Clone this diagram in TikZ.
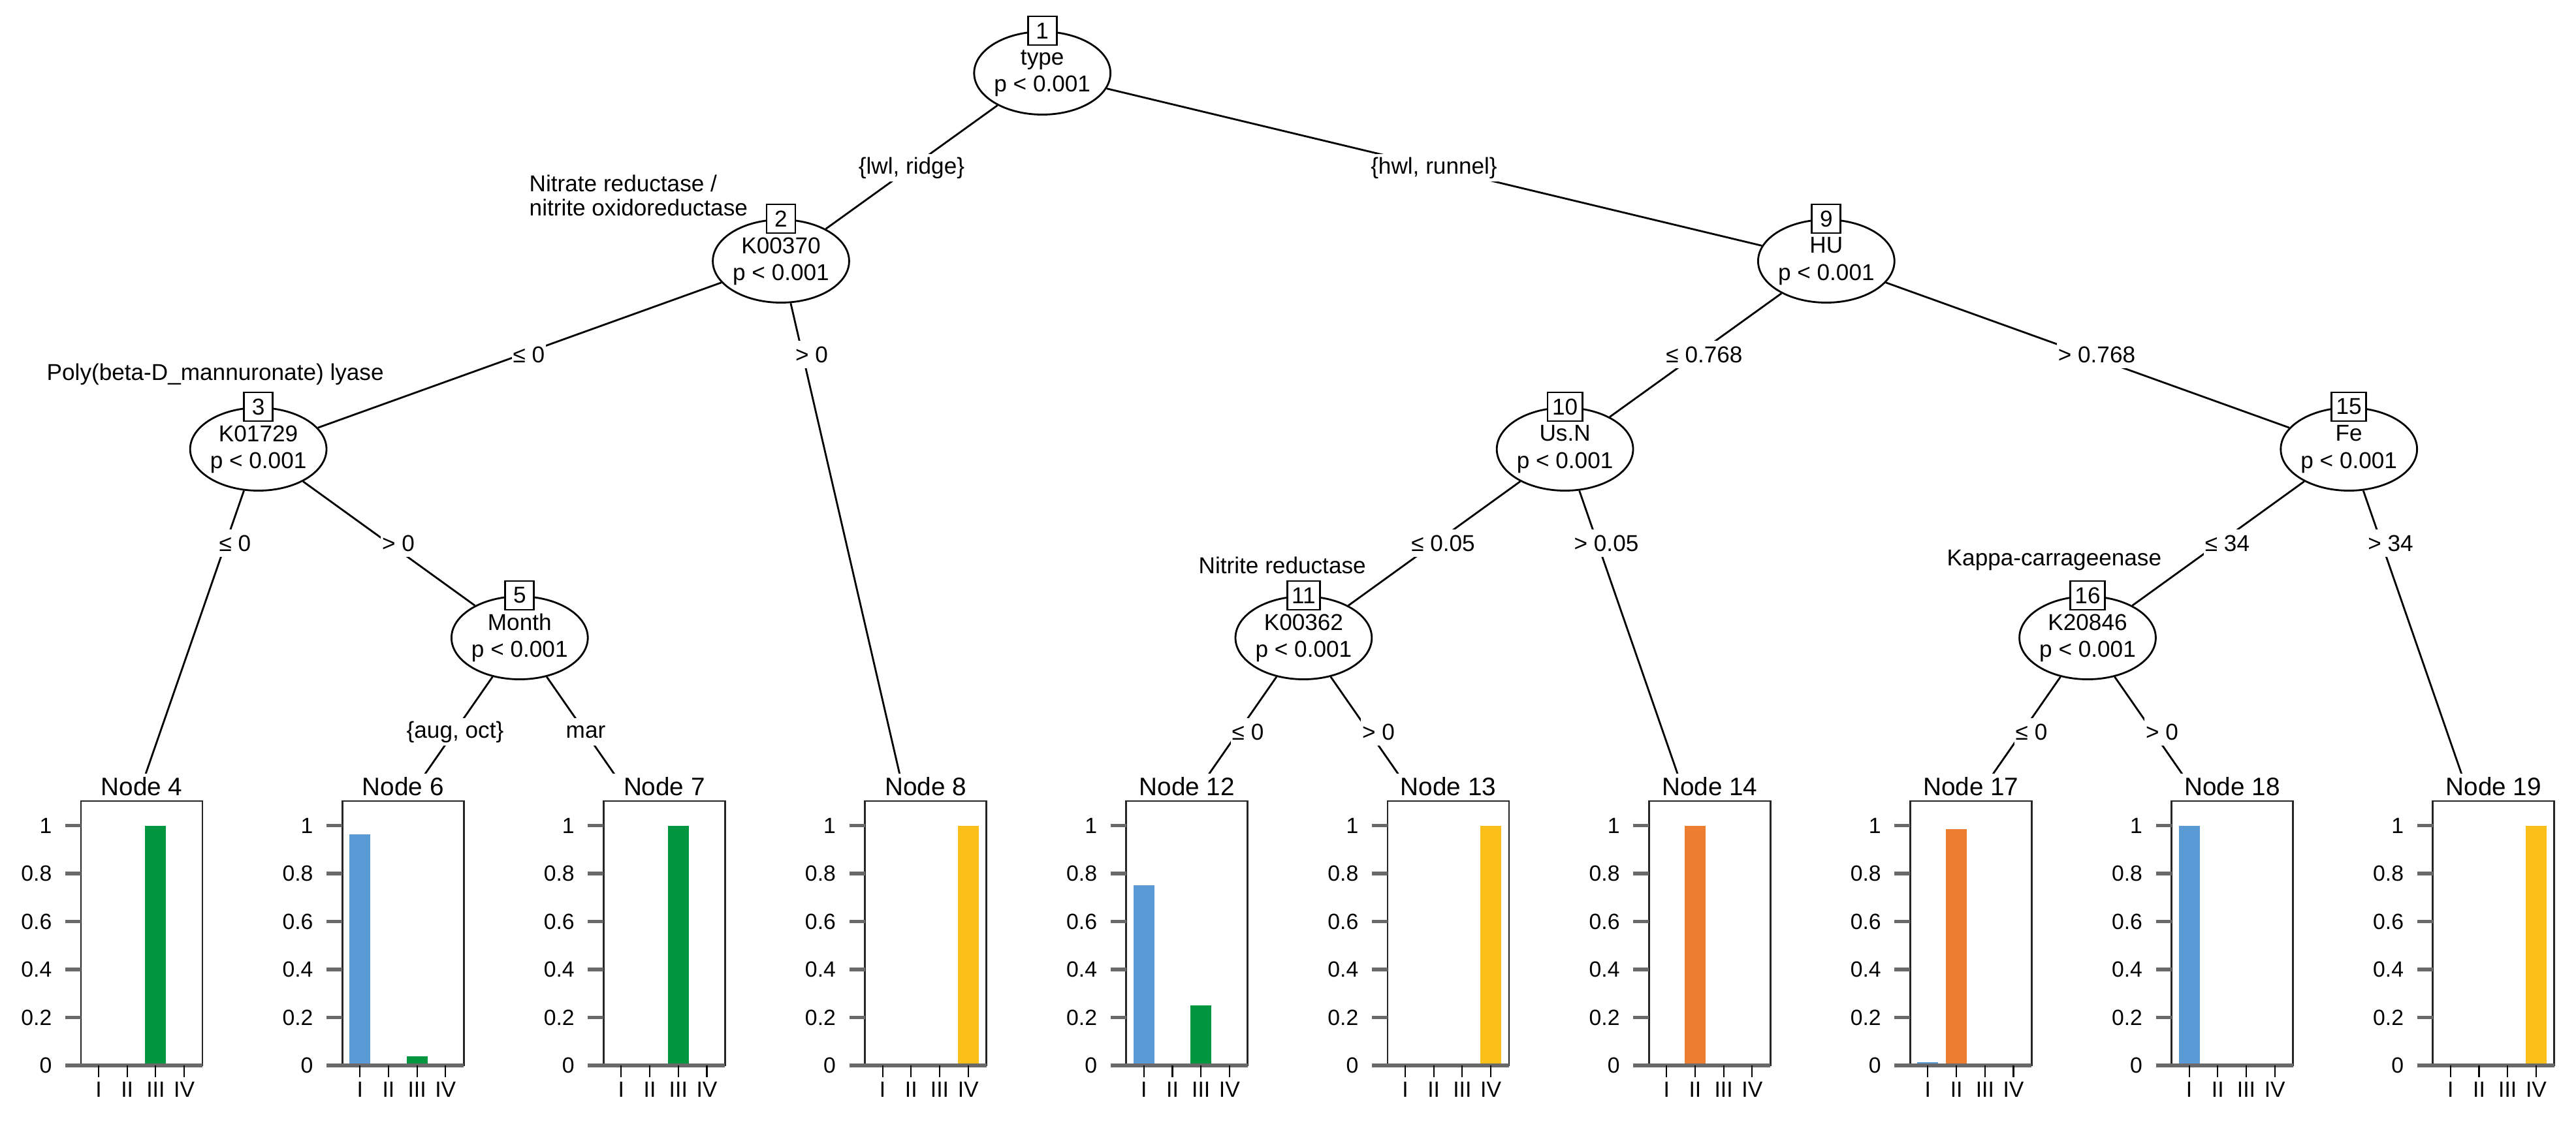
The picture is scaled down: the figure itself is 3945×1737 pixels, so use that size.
\documentclass[tikz,border=0pt]{standalone}
\usepackage{fontspec}
\setmainfont{Liberation Sans}
\usetikzlibrary{shapes.geometric}
\definecolor{cI}{RGB}{91,155,213}
\definecolor{cII}{RGB}{237,125,49}
\definecolor{cIII}{RGB}{0,150,64}
\definecolor{cIV}{RGB}{252,190,25}
\definecolor{tickgray}{RGB}{105,105,105}
\tikzset{
  innernode/.style={ellipse,draw,line width=0.8pt,fill=white,minimum width=1.96cm,minimum height=1.27cm,inner sep=0pt,align=center,font=\fontsize{10}{11.7}\selectfont,execute at begin node={\rule{0pt}{10pt}}},
  numbox/.style={rectangle,draw,line width=0.8pt,fill=white,minimum width=0.44cm,minimum height=0.44cm,inner xsep=2pt,inner ysep=0pt,font=\fontsize{10}{12}\selectfont},
  edge/.style={line width=0.8pt},
  elab/.style={fill=white,inner xsep=0.5pt,inner ysep=0pt,minimum height=0.42cm,font=\fontsize{10}{12}\selectfont},
  annot/.style={anchor=west,inner sep=0pt,font=\fontsize{10}{12}\selectfont},
  ttl/.style={inner sep=0pt,font=\fontsize{11}{13}\selectfont},
  axlab/.style={inner sep=0pt,font=\fontsize{9.6}{11}\selectfont},
  boxl/.style={line width=0.8pt,draw=black!85},
  axisl/.style={line width=1.5pt,draw=tickgray},
  ytick/.style={line width=1.5pt,draw=tickgray},
  xtick/.style={line width=0.6pt,draw=black},
}
\newcommand\drawpanel[6]{%
  \pgfmathsetmacro\pS{195.5+400.2*#1}%
  \pgfmathsetmacro\pL{\pS-71.5}%
  \pgfmathsetmacro\pR{\pS+114.5}%
  \foreach \v/\c/\k in {#3/cI/0,#4/cII/1,#5/cIII/2,#6/cIV/3}{%
    \pgfmathsetmacro\cx{\pL+27+43.7*\k}%
    \pgfmathsetmacro\pT{1632-367.5*\v}%
    \fill[\c] (\cx-16,1632) rectangle (\cx+16,\pT);
  }%
  \draw[boxl] (\pL,1227) rectangle (\pR,1632);
  \foreach \v/\t [count=\k] in {0/0,0.2/0.2,0.4/0.4,0.6/0.6,0.8/0.8,1/1}{%
    \pgfmathsetmacro\yy{1632-367.5*\v}%
    \draw[ytick] (\pL-24,\yy) -- (\pL,\yy);
    \node[axlab,anchor=east] (Y#2-\k) at (\pL-44,\yy) {\t};
  }%
  \draw[axisl] (\pL-24,1632) -- (\pR,1632);
  \foreach \t [count=\k from 0] in {I,II,III,IV}{%
    \pgfmathsetmacro\cx{\pL+27+43.7*\k}%
    \draw[xtick] (\cx,1632) -- (\cx,1650);
    \node[axlab] (X#2-\t) at (\cx,1669) {\t};
  }%
  \node[ttl] (P#2) at (\pS+21.5,1205) {Node #2};
}
\begin{document}
\begin{tikzpicture}[x=0.01cm,y=-0.01cm]
\useasboundingbox (0,0) rectangle (3945,1737);
\fill[white] (0,0) rectangle (3945,1737);

% inner nodes
\node[innernode] (N1) at (1596.2,112) {type\\p < 0.001};
\node[innernode] (N2) at (1196,400) {K00370\\p < 0.001};
\node[innernode] (N9) at (2796.8,400) {HU\\p < 0.001};
\node[innernode] (N3) at (395.6,688) {K01729\\p < 0.001};
\node[innernode] (N10) at (2396.6,688) {Us.N\\p < 0.001};
\node[innernode] (N15) at (3597.2,688) {Fe\\p < 0.001};
\node[innernode] (N5) at (795.8,977) {Month\\p < 0.001};
\node[innernode] (N11) at (1996.4,977) {K00362\\p < 0.001};
\node[innernode] (N16) at (3197,977) {K20846\\p < 0.001};

\node[numbox] (B1) at (N1.north) {1};
\node[numbox] (B2) at (N2.north) {2};
\node[numbox] (B9) at (N9.north) {9};
\node[numbox] (B3) at (N3.north) {3};
\node[numbox] (B10) at (N10.north) {10};
\node[numbox] (B15) at (N15.north) {15};
\node[numbox] (B5) at (N5.north) {5};
\node[numbox] (B11) at (N11.north) {11};
\node[numbox] (B16) at (N16.north) {16};

% terminal anchors
\coordinate (T4) at (195.5,1265);
\coordinate (T6) at (595.7,1265);
\coordinate (T7) at (995.9,1265);
\coordinate (T8) at (1396.1,1265);
\coordinate (T12) at (1796.3,1265);
\coordinate (T13) at (2196.5,1265);
\coordinate (T14) at (2596.7,1265);
\coordinate (T17) at (2996.9,1265);
\coordinate (T18) at (3397.1,1265);
\coordinate (T19) at (3797.3,1265);

% edges
\draw[edge] (N1) -- (N2);
\draw[edge] (N1) -- (N9);
\draw[edge] (N2) -- (N3);
\draw[edge] (N2) -- (T8);
\draw[edge] (N3) -- (T4);
\draw[edge] (N3) -- (N5);
\draw[edge] (N5) -- (T6);
\draw[edge] (N5) -- (T7);
\draw[edge] (N9) -- (N10);
\draw[edge] (N9) -- (N15);
\draw[edge] (N10) -- (N11);
\draw[edge] (N10) -- (T14);
\draw[edge] (N11) -- (T12);
\draw[edge] (N11) -- (T13);
\draw[edge] (N15) -- (N16);
\draw[edge] (N15) -- (T19);
\draw[edge] (N16) -- (T17);
\draw[edge] (N16) -- (T18);

% panel area background
\fill[white] (0,1185) rectangle (3945,1737);

% edge labels
\node[elab] (E2) at (1396,257) {\{lwl, ridge\}};
\node[elab] (E9) at (2196,257) {\{hwl, runnel\}};
\node[elab] (E3) at (810,543) {≤ 0};
\node[elab] (E8) at (1243,543) {> 0};
\node[elab] (E10) at (2610,543) {≤ 0.768};
\node[elab] (E15) at (3211,543) {> 0.768};
\node[elab] (E4) at (360,832) {≤ 0};
\node[elab] (E5) at (610,832) {> 0};
\node[elab] (E11) at (2210,832) {≤ 0.05};
\node[elab] (E14) at (2460,832) {> 0.05};
\node[elab] (E16) at (3411,832) {≤ 34};
\node[elab] (E19) at (3661,832) {> 34};
\node[elab] (E6) at (697,1121) {\{aug, oct\}};
\node[elab] (E7) at (897,1121) {mar};
\node[elab] (E12) at (1911,1121) {≤ 0};
\node[elab] (E13) at (2111,1121) {> 0};
\node[elab] (E17) at (3111,1121) {≤ 0};
\node[elab] (E18) at (3311,1121) {> 0};

% annotations
\node[annot] (A2a) at (810,281) {Nitrate reductase /};
\node[annot] (A2b) at (810,318) {nitrite oxidoreductase};
\node[annot] (A3) at (71,573) {Poly(beta-D\_mannuronate) lyase};
\node[annot] (A11) at (1835,866) {Nitrite reductase};
\node[annot] (A16) at (2981,858) {Kappa-carrageenase};

% terminal panels
\drawpanel{0}{4}{0}{0}{1}{0}
\drawpanel{1}{6}{0.963}{0}{0.037}{0}
\drawpanel{2}{7}{0}{0}{1}{0}
\drawpanel{3}{8}{0}{0}{0}{1}
\drawpanel{4}{12}{0.75}{0}{0.25}{0}
\drawpanel{5}{13}{0}{0}{0}{1}
\drawpanel{6}{14}{0}{1}{0}{0}
\drawpanel{7}{17}{0.014}{0.986}{0}{0}
\drawpanel{8}{18}{1}{0}{0}{0}
\drawpanel{9}{19}{0}{0}{0}{1}
\end{tikzpicture}
\end{document}
